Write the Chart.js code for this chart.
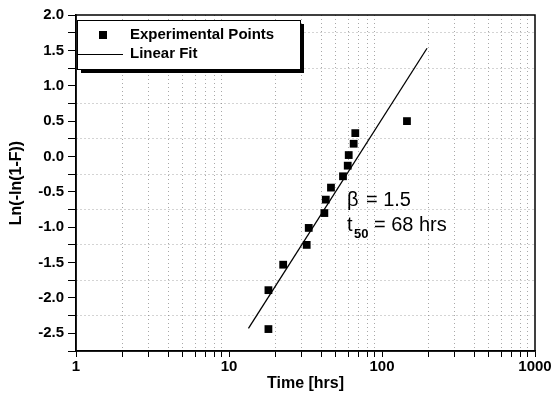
<!DOCTYPE html>
<html>
<head>
<meta charset="utf-8">
<script src="https://cdn.jsdelivr.net/npm/chart.js@4/dist/chart.umd.min.js"></script>
<style>
body { margin: 0; background: #fff; }
#caixa { width: 554px; height: 393px; }
</style>
</head>
<body>
<div id="caixa"><canvas id="grafico" width="554" height="393"></canvas></div>
<script>
// pontos experimentais (tempo em horas, ln(-ln(1-F)))
let tempos = [18.1, 18.1, 22.6, 32.2, 33.2, 42.0, 42.9, 46.4, 55.6, 59.7, 60.6, 65.3, 66.9, 145.6]
let lnln = [-2.44, -1.89, -1.53, -1.25, -1.01, -0.80, -0.61, -0.44, -0.28, -0.13, 0.02, 0.18, 0.33, 0.50]

// reta ajustada, so os extremos
let fitX = [13.4, 197]
let fitY = [-2.43, 1.53]

// eixos
let xMajor = [1, 10, 100, 1000]
let yLabels = [-2.5, -2.0, -1.5, -1.0, -0.5, 0.0, 0.5, 1.0, 1.5, 2.0]
let yMin = -2.75
let yMax = 2.0

let nomes = ['Experimental Points', 'Linear Fit']
// textos do canto: beta e t50 (posicao em unidades do grafico)
let textoBeta = ['\u03b2', '= 1.5']
let textoT50 = ['t', '50', '= 68 hrs']
let posTexto = { x: 59, y1: -0.62, y2: -0.98 }

let fonte = 'Liberation Sans, Arial, sans-serif'
Chart.defaults.font.family = fonte
Chart.defaults.color = '#000'

// ticks do eixo x: 1,2,...,9,10,20,...,1000
let xTicks = []
for (let d = 1; d <= 100; d *= 10) {
    for (let k = 1; k <= 9; k++) xTicks.push(k * d)
}
xTicks.push(1000)

// ticks do eixo y de 0.25 em 0.25
let yTicks = []
for (let i = Math.round(yMin / 0.25); i <= Math.round(yMax / 0.25); i++) yTicks.push(i * 0.25)

function ehMeio(v) {
    return Math.abs(v * 2 - Math.round(v * 2)) < 1e-6
}

let pontos = tempos.map((t, i) => ({ x: t, y: lnln[i] }))
let reta = fitX.map((t, i) => ({ x: t, y: fitY[i] }))

let cinza = 'rgba(110,110,110,0.6)'

// moldura em volta da area do grafico
const moldura = {
    id: 'moldura',
    afterDatasetsDraw(chart) {
        let a = chart.chartArea
        let c = chart.ctx
        c.save()
        c.strokeStyle = '#000'
        c.lineWidth = 1.5
        c.strokeRect(a.left, a.top, a.right - a.left, a.bottom - a.top)
        c.restore()
    }
}

// legenda com caixa e sombra
const legenda = {
    id: 'legenda',
    afterDraw(chart) {
        let a = chart.chartArea
        let c = chart.ctx
        let x0 = a.left + 1, y0 = a.top + 5, w = 223, h = 49
        c.save()
        c.fillStyle = '#000'
        c.fillRect(x0 + 4, y0 + 4, w, h)
        c.fillStyle = '#fff'
        c.fillRect(x0, y0, w, h)
        c.strokeStyle = '#000'
        c.lineWidth = 1
        c.strokeRect(x0 + 0.5, y0 + 0.5, w, h)

        let ds = chart.data.datasets
        c.font = 'bold 15px ' + fonte
        c.textBaseline = 'middle'
        c.fillStyle = '#000'
        // quadrado
        c.fillRect(x0 + 22, y0 + 11, 8, 8)
        c.fillText(ds[0].label, x0 + 53, y0 + 15)
        // linha
        c.beginPath()
        c.moveTo(x0 + 1, y0 + 34.5)
        c.lineTo(x0 + 46, y0 + 34.5)
        c.lineWidth = 1
        c.strokeStyle = '#000'
        c.stroke()
        c.fillText(ds[1].label, x0 + 53, y0 + 34)
        c.restore()
    }
}

// textos beta e t50
const textos = {
    id: 'textos',
    afterDraw(chart) {
        let sx = chart.scales.x, sy = chart.scales.y
        let c = chart.ctx
        let px = sx.getPixelForValue(posTexto.x)
        let py1 = sy.getPixelForValue(posTexto.y1)
        let py2 = sy.getPixelForValue(posTexto.y2)
        c.save()
        c.fillStyle = '#000'
        c.textBaseline = 'middle'
        c.font = '20px ' + fonte
        c.fillText(textoBeta[0], px, py1)
        c.fillText(textoBeta[1], px + 19, py1)
        c.fillText(textoT50[0], px, py2)
        c.font = 'bold 13px ' + fonte
        c.fillText(textoT50[1], px + 7, py2 + 9)
        c.font = '20px ' + fonte
        c.fillText(textoT50[2], px + 27, py2)
        c.restore()
    }
}

var ctx = document.getElementById('grafico').getContext('2d')
var grafico = new Chart(ctx, {
    type: 'scatter',
    data: {
        datasets: [{
            label: nomes[0],
            data: pontos,
            pointStyle: 'rect',
            pointRadius: 5.5,
            backgroundColor: '#000',
            borderColor: '#000',
            borderWidth: 0,
            showLine: false
        }, {
            label: nomes[1],
            data: reta,
            showLine: true,
            pointRadius: 0,
            borderColor: '#000',
            borderWidth: 1.3,
            fill: false
        }]
    },
    options: {
        responsive: false,
        animation: false,
        layout: { padding: { left: 4, right: 19, top: 15, bottom: 0 } },
        plugins: {
            legend: { display: false },
            tooltip: { enabled: false }
        },
        scales: {
            x: {
                type: 'logarithmic',
                min: 1,
                max: 1000,
                afterBuildTicks: s => { s.ticks = xTicks.map(v => ({ value: v })) },
                afterFit: s => { s.height = 42 },
                ticks: {
                    autoSkip: false,
                    maxRotation: 0,
                    padding: 1,
                    font: { size: 15, weight: 'bold' },
                    callback: v => xMajor.includes(v) ? String(v) : ''
                },
                grid: {
                    color: c => (c.tick && xMajor.includes(c.tick.value)) ? 'rgba(0,0,0,0)' : cinza,
                    tickColor: '#000',
                    tickLength: 6,
                    lineWidth: 1
                },
                border: { color: '#000', width: 1.5, dash: [1, 3] },
                title: {
                    display: true,
                    text: 'Time [hrs]',
                    font: { size: 16, weight: 'bold' },
                    padding: { top: 0, bottom: 0 }
                }
            },
            y: {
                min: yMin,
                max: yMax,
                afterBuildTicks: s => { s.ticks = yTicks.map(v => ({ value: v })) },
                afterFit: s => { s.width = 72 },
                ticks: {
                    autoSkip: false,
                    padding: 4,
                    font: { size: 15, weight: 'bold' },
                    callback: v => (ehMeio(v) && v >= yLabels[0] - 1e-6) ? v.toFixed(1) : ''
                },
                grid: {
                    color: c => {
                        if (!c.tick) return 'rgba(0,0,0,0)'
                        let v = c.tick.value
                        if (ehMeio(v) || Math.abs(v - yMin) < 1e-6) return 'rgba(0,0,0,0)'
                        return cinza
                    },
                    tickColor: '#000',
                    tickLength: 8,
                    lineWidth: 1
                },
                border: { color: '#000', width: 1.5, dash: [1, 3] },
                title: {
                    display: true,
                    text: 'Ln(-ln(1-F))',
                    font: { size: 16, weight: 'bold' },
                    padding: { top: 3, bottom: 0 }
                }
            }
        }
    },
    plugins: [moldura, legenda, textos]
})
</script>
</body>
</html>
